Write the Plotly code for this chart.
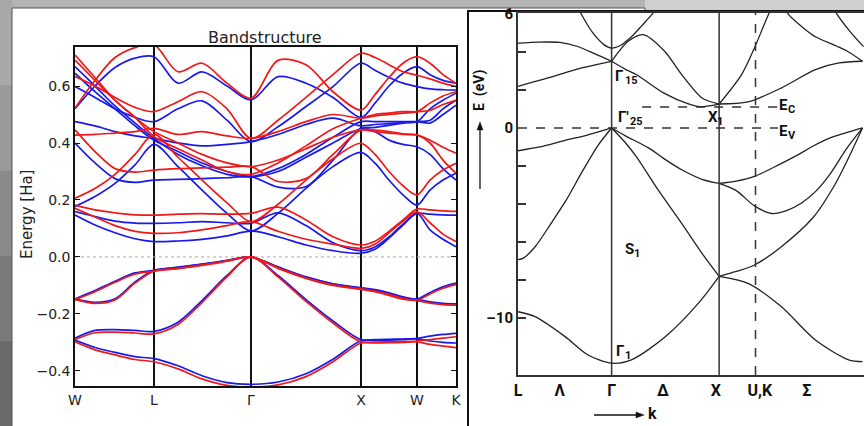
import plotly.graph_objects as go

# ---------------- LEFT PANEL DATA (Energy in Ha) ----------------
K_LEFT = [0, 20, 40, 60, 79, 103, 127, 152, 176, 203, 231, 258, 286, 300, 314, 328, 342, 355, 368, 381]
LEFT_TICK_K = [0, 79, 176, 286, 342, 381]
LEFT_TICK_TEXT = ['W', 'L', 'Γ', 'X', 'W', 'K']
LEFT_Y_TICKS = [-0.4, -0.2, 0.0, 0.2, 0.4, 0.6]

BLUE_V1 = [-0.147, -0.118, -0.085, -0.056, -0.047, -0.036, -0.025, -0.012, 0.0, -0.035, -0.07, -0.094, -0.108, -0.115, -0.126, -0.14, -0.148, -0.125, -0.105, -0.092]
BLUE_V2 = [-0.147, -0.159, -0.147, -0.088, -0.047, -0.037, -0.026, -0.013, 0.0, -0.036, -0.071, -0.095, -0.109, -0.117, -0.13, -0.143, -0.149, -0.158, -0.163, -0.165]
BLUE_V3 = [-0.285, -0.258, -0.255, -0.258, -0.261, -0.229, -0.153, -0.065, 0.0, -0.065, -0.15, -0.225, -0.29, -0.29, -0.289, -0.288, -0.286, -0.278, -0.272, -0.268]
BLUE_V4 = [-0.292, -0.318, -0.335, -0.35, -0.357, -0.382, -0.417, -0.441, -0.447, -0.439, -0.41, -0.359, -0.294, -0.293, -0.292, -0.29, -0.288, -0.295, -0.3, -0.302]
BLUE_C1 = [0.147, 0.112, 0.085, 0.064, 0.054, 0.056, 0.062, 0.074, 0.091, 0.071, 0.042, 0.022, 0.013, 0.027, 0.066, 0.112, 0.153, 0.095, 0.062, 0.036]
BLUE_C2 = [0.159, 0.142, 0.126, 0.119, 0.118, 0.12, 0.124, 0.12, 0.118, 0.155, 0.11, 0.05, 0.022, 0.035, 0.07, 0.115, 0.153, 0.15, 0.148, 0.147]
BLUE_C3 = [0.177, 0.212, 0.258, 0.323, 0.395, 0.317, 0.235, 0.153, 0.091, 0.153, 0.241, 0.317, 0.367, 0.329, 0.27, 0.218, 0.182, 0.235, 0.27, 0.294]
BLUE_C4 = [0.40, 0.33, 0.275, 0.262, 0.27, 0.272, 0.275, 0.278, 0.282, 0.245, 0.247, 0.34, 0.451, 0.44, 0.41, 0.395, 0.387, 0.36, 0.31, 0.27]
BLUE_C5 = [0.668, 0.60, 0.53, 0.47, 0.416, 0.36, 0.32, 0.29, 0.282, 0.31, 0.36, 0.42, 0.475, 0.475, 0.475, 0.475, 0.475, 0.47, 0.50, 0.533]
BLUE_C6 = [0.598, 0.56, 0.52, 0.49, 0.475, 0.52, 0.548, 0.48, 0.405, 0.457, 0.528, 0.598, 0.68, 0.655, 0.63, 0.61, 0.598, 0.59, 0.587, 0.586]
BLUE_C7 = [0.52, 0.60, 0.665, 0.698, 0.703, 0.61, 0.65, 0.60, 0.551, 0.633, 0.61, 0.56, 0.49, 0.54, 0.60, 0.645, 0.668, 0.64, 0.62, 0.61]
BLUE_C8 = [0.475, 0.46, 0.44, 0.425, 0.416, 0.40, 0.39, 0.395, 0.405, 0.43, 0.465, 0.487, 0.46, 0.465, 0.468, 0.472, 0.475, 0.52, 0.55, 0.575]
BLUE_C9 = [0.645, 0.58, 0.52, 0.46, 0.41, 0.37, 0.33, 0.30, 0.282, 0.30, 0.35, 0.40, 0.451, 0.455, 0.462, 0.47, 0.475, 0.48, 0.52, 0.55]

RED_V1 = [-0.15, -0.122, -0.089, -0.06, -0.05, -0.04, -0.028, -0.014, 0.0, -0.038, -0.074, -0.098, -0.112, -0.12, -0.131, -0.145, -0.152, -0.13, -0.11, -0.097]
RED_V2 = [-0.15, -0.163, -0.151, -0.092, -0.05, -0.041, -0.03, -0.015, 0.0, -0.04, -0.075, -0.1, -0.114, -0.122, -0.135, -0.148, -0.153, -0.162, -0.167, -0.169]
RED_V3 = [-0.29, -0.266, -0.264, -0.267, -0.27, -0.237, -0.16, -0.07, 0.0, -0.07, -0.156, -0.232, -0.298, -0.299, -0.298, -0.297, -0.295, -0.29, -0.285, -0.28]
RED_V4 = [-0.298, -0.326, -0.344, -0.36, -0.368, -0.393, -0.428, -0.451, -0.457, -0.449, -0.42, -0.368, -0.302, -0.302, -0.301, -0.3, -0.298, -0.307, -0.313, -0.318]
RED_C1 = [0.171, 0.14, 0.11, 0.09, 0.083, 0.085, 0.095, 0.11, 0.124, 0.09, 0.062, 0.045, 0.03, 0.045, 0.085, 0.125, 0.158, 0.12, 0.08, 0.054]
RED_C2 = [0.182, 0.165, 0.155, 0.148, 0.147, 0.15, 0.152, 0.15, 0.153, 0.175, 0.13, 0.071, 0.042, 0.055, 0.09, 0.13, 0.168, 0.165, 0.162, 0.16]
RED_C3 = [0.206, 0.24, 0.29, 0.36, 0.43, 0.35, 0.27, 0.19, 0.124, 0.185, 0.27, 0.345, 0.399, 0.36, 0.30, 0.25, 0.218, 0.27, 0.305, 0.329]
RED_C4 = [0.446, 0.37, 0.31, 0.298, 0.305, 0.31, 0.313, 0.315, 0.317, 0.265, 0.275, 0.36, 0.446, 0.445, 0.44, 0.432, 0.428, 0.40, 0.34, 0.294]
RED_C5 = [0.709, 0.63, 0.55, 0.49, 0.422, 0.38, 0.34, 0.30, 0.29, 0.33, 0.39, 0.45, 0.487, 0.50, 0.505, 0.51, 0.51, 0.515, 0.535, 0.55]
RED_C6 = [0.633, 0.60, 0.56, 0.525, 0.51, 0.545, 0.58, 0.52, 0.416, 0.48, 0.56, 0.64, 0.715, 0.70, 0.675, 0.65, 0.638, 0.625, 0.61, 0.598]
RED_C7 = [0.522, 0.62, 0.70, 0.735, 0.745, 0.65, 0.68, 0.61, 0.557, 0.69, 0.675, 0.58, 0.516, 0.57, 0.63, 0.68, 0.703, 0.68, 0.64, 0.61]
RED_C8 = [0.428, 0.43, 0.435, 0.44, 0.451, 0.43, 0.44, 0.425, 0.416, 0.44, 0.475, 0.50, 0.487, 0.495, 0.50, 0.505, 0.51, 0.54, 0.565, 0.58]
RED_C9 = [0.691, 0.62, 0.55, 0.49, 0.44, 0.40, 0.36, 0.33, 0.317, 0.34, 0.38, 0.42, 0.446, 0.44, 0.435, 0.43, 0.428, 0.41, 0.385, 0.364]

BLUE_BANDS = [BLUE_V1, BLUE_V2, BLUE_V3, BLUE_V4, BLUE_C1, BLUE_C2, BLUE_C3, BLUE_C4,
              BLUE_C5, BLUE_C6, BLUE_C7, BLUE_C8, BLUE_C9]
RED_BANDS = [RED_V1, RED_V2, RED_V3, RED_V4, RED_C1, RED_C2, RED_C3, RED_C4,
             RED_C5, RED_C6, RED_C7, RED_C8, RED_C9]

# ---------------- RIGHT PANEL DATA (Energy in eV) ----------------
RIGHT_TICK_K = [0, 0.39, 0.875, 1.355, 1.85, 2.26, 2.70]
RIGHT_TICK_TEXT = ['L', 'Λ', 'Γ', 'Δ', 'X', 'U,K', 'Σ']
RIGHT_SOLID_K = [0.875, 1.88]
RIGHT_DASHED_K = [2.22]
RIGHT_Y_LABELED = [-10, 0, 6]
RIGHT_Y_LABEL_TEXT = ['–10', '0', '6']
RIGHT_Y_MINOR = [-10, -8, -6, -4, -2, 2, 4]
E_C = 1.1
E_V = 0.0
EC_K = [1.16, 2.43]
EV_K = [0.0, 2.43]

VB0_K = [0, 0.16, 0.44, 0.655, 0.875, 1.06, 1.374, 1.685, 1.88, None, 1.88, 2.15, 2.46, 2.78, 3.09, 3.22]
VB0_E = [-9.67, -9.93, -10.98, -11.95, -12.38, -12.2, -11.0, -9.23, -7.81, None, -7.81, -8.18, -9.4, -11.16, -12.2, -12.3]
VB2_K = [0, 0.05, 0.16, 0.3, 0.45, 0.6, 0.75, 0.875, None, 0.875, 1.0, 1.109, 1.31, 1.53, 1.72, 1.88, None, 1.88, 2.04, 2.21, 2.45, 2.76, 2.96, 3.07, 3.22]
VB2_E = [-6.93, -6.85, -6.25, -5.1, -3.8, -2.3, -0.9, 0.0, None, 0.0, -0.75, -1.53, -3.26, -5.02, -6.6, -7.81, None, -7.81, -7.55, -7.21, -6.3, -4.7, -3.0, -1.8, 0.0]
VB1_K = [0, 0.2, 0.44, 0.64, 0.875, None, 0.875, 1.0, 1.22, 1.36, 1.53, 1.72, 1.88, None, 1.88, 2.04, 2.21, 2.45, 2.62, 2.76, 2.93, 3.07, 3.22]
VB1_E = [-1.2, -1.0, -0.65, -0.39, 0.0, None, 0.0, -0.4, -1.05, -1.6, -2.2, -2.7, -2.92, None, -2.92, -2.8, -2.55, -1.9, -1.4, -0.95, -0.5, -0.25, 0.0]
VB1B_K = [1.88, 2.04, 2.21, 2.37, 2.51, 2.65, 2.78, 2.92, 3.07, 3.22]
VB1B_E = [-2.92, -3.3, -4.1, -4.5, -4.35, -3.95, -3.35, -2.4, -1.1, 0.0]
CB1_K = [0, 0.28, 0.595, 0.875, None, 0.875, 1.0, 1.109, 1.36, 1.6, 1.7, 1.88, None, 1.88, 2.15, 2.46, 2.78, 3.0, 3.22]
CB1_E = [2.19, 2.63, 3.16, 3.51, None, 3.51, 3.1, 2.8, 1.85, 1.25, 1.12, 1.26, None, 1.26, 1.37, 2.1, 3.07, 3.42, 3.51]
CB2_K = [0, 0.2, 0.39, 0.55, 0.72, 0.875, None, 0.875, 1.03, 1.17, 1.37, 1.53, 1.72, 1.88, None, 1.88, 2.09, 2.21, 2.34, 2.45]
CB2_E = [4.46, 4.52, 4.5, 4.3, 3.9, 3.51, None, 3.51, 4.56, 4.91, 4.04, 2.81, 1.58, 1.26, None, 1.26, 2.81, 4.21, 5.96, 7.2]
CB3_K = [0.52, 0.595, 0.7, 0.8, 0.875, 0.96, 1.06, 1.16, 1.25, 1.32]
CB3_E = [6.8, 5.96, 5.0, 4.4, 4.2, 4.35, 4.8, 5.4, 5.96, 6.5]
CB4_K = [2.47, 2.53, 2.67, 2.78, 2.98, 3.09, 3.22]
CB4_E = [6.6, 5.96, 5.25, 4.8, 4.3, 4.0, 3.51]
CB5_K = [2.9, 2.98, 3.1, 3.23]
CB5_E = [7.0, 6.0, 5.1, 4.28]

RIGHT_BANDS = [(VB0_K, VB0_E), (VB2_K, VB2_E), (VB1_K, VB1_E), (VB1B_K, VB1B_E),
               (CB1_K, CB1_E), (CB2_K, CB2_E), (CB3_K, CB3_E), (CB4_K, CB4_E), (CB5_K, CB5_E)]

W, H = 864, 426
def px(x):
    return x / W
def py(y):
    return 1 - y / H

fig = go.Figure()

# zero reference line (left)
fig.add_trace(go.Scatter(x=[K_LEFT[0], K_LEFT[-1]], y=[0, 0], mode='lines',
                         line=dict(color='#aaaaaa', width=1, dash='dot'),
                         xaxis='x', yaxis='y', hoverinfo='skip'))
for band in BLUE_BANDS:
    fig.add_trace(go.Scatter(x=K_LEFT, y=band, mode='lines',
                             line=dict(color='rgb(25,25,235)', width=1.7, shape='spline', smoothing=0.9),
                             xaxis='x', yaxis='y'))
for band in RED_BANDS:
    fig.add_trace(go.Scatter(x=K_LEFT, y=band, mode='lines',
                             line=dict(color='rgb(240,25,25)', width=1.7, shape='spline', smoothing=0.9),
                             xaxis='x', yaxis='y'))

for kk, ee in RIGHT_BANDS:
    fig.add_trace(go.Scatter(x=kk, y=ee, mode='lines', connectgaps=False,
                             line=dict(color='#222222', width=1.3, shape='spline', smoothing=0.8),
                             xaxis='x2', yaxis='y2'))
# E_C and E_V dashed levels
fig.add_trace(go.Scatter(x=EC_K, y=[E_C, E_C], mode='lines',
                         line=dict(color='#333333', width=1.4, dash='dash'), xaxis='x2', yaxis='y2'))
fig.add_trace(go.Scatter(x=EV_K, y=[E_V, E_V], mode='lines',
                         line=dict(color='#333333', width=1.4, dash='dash'), xaxis='x2', yaxis='y2'))

shapes = []
# gray background pieces
shapes.append(dict(type='rect', xref='paper', yref='paper', x0=0, x1=1, y0=0, y1=1,
                   fillcolor='#b4b4b4', line=dict(width=0), layer='below'))
for i, c in enumerate(['#a8a8a8', '#9a9a9a', '#8a8a8a', '#7a7a7a', '#6a6a6a']):
    shapes.append(dict(type='rect', xref='paper', yref='paper', x0=0, x1=px(12),
                       y0=1 - (i + 1) / 5, y1=1 - i / 5, fillcolor=c, line=dict(width=0), layer='below'))
shapes.append(dict(type='rect', xref='paper', yref='paper', x0=px(645), x1=1, y0=py(12), y1=1,
                   fillcolor='#cfcfcf', line=dict(width=0), layer='below'))
# white panels
shapes.append(dict(type='rect', xref='paper', yref='paper', x0=px(12), x1=px(645), y0=-0.01, y1=py(8),
                   fillcolor='white', line=dict(color='#555555', width=1), layer='below'))
shapes.append(dict(type='rect', xref='paper', yref='paper', x0=px(468), x1=1.01, y0=-0.01, y1=py(11),
                   fillcolor='white', line=dict(color='#111111', width=2), layer='below'))
# right panel vertical symmetry lines
for kx in RIGHT_SOLID_K:
    shapes.append(dict(type='line', xref='x2', yref='paper', x0=kx, x1=kx, y0=py(375), y1=py(13),
                       line=dict(color='#333333', width=1.5)))
for kx in RIGHT_DASHED_K:
    shapes.append(dict(type='line', xref='x2', yref='paper', x0=kx, x1=kx, y0=py(375), y1=py(13),
                       line=dict(color='#333333', width=1.5, dash='dash')))
# arrows (E axis and k axis)
shapes.append(dict(type='line', xref='paper', yref='paper', x0=px(480), x1=px(480), y0=py(189), y1=py(128),
                   line=dict(color='#111111', width=1.3)))
shapes.append(dict(type='path', xref='paper', yref='paper',
                   path=f'M {px(477)} {py(130)} L {px(483)} {py(130)} L {px(480)} {py(122)} Z',
                   fillcolor='#111111', line=dict(color='#111111', width=0.5)))
shapes.append(dict(type='line', xref='paper', yref='paper', x0=px(594), x1=px(638), y0=py(415), y1=py(415),
                   line=dict(color='#111111', width=1.3)))
shapes.append(dict(type='path', xref='paper', yref='paper',
                   path=f'M {px(636)} {py(412)} L {px(636)} {py(418)} L {px(644)} {py(415)} Z',
                   fillcolor='#111111', line=dict(color='#111111', width=0.5)))

bold_family = 'Roboto, Liberation Sans Narrow, DejaVu Sans, sans-serif'
mpl_font = 'DejaVu Sans, sans-serif'
def bfont(size):
    return dict(family=bold_family, size=size, color='#111111', weight='bold')

annotations = [
    dict(text='Bandstructure', x=px(265), y=py(37), xref='paper', yref='paper', showarrow=False,
         xanchor='center', yanchor='middle', font=dict(family=mpl_font, size=16, color='#222222')),
    dict(text='Energy [Ha]', x=px(27), y=py(215), xref='paper', yref='paper', showarrow=False,
         xanchor='center', yanchor='middle', textangle=-90,
         font=dict(family=mpl_font, size=15, color='#222222')),
    dict(text='E  (eV)', x=px(480), y=py(90), xref='paper', yref='paper', showarrow=False,
         xanchor='center', yanchor='middle', textangle=-90, font=bfont(14)),
    dict(text='k', x=px(652), y=py(413), xref='paper', yref='paper', showarrow=False,
         xanchor='center', yanchor='middle', font=bfont(16)),
]
# symbol labels: (main text, x, y, subscript text, sub x, sub y)
labels = [
    ('Γ', 613, 76, '15', 623, 80),
    ("Γ'", 616, 117, '25', 628, 121),
    ('X', 706, 117, '1', 715, 121),
    ('S', 623, 249, '1', 632, 253),
    ('Γ', 614, 351, '1', 623, 355),
    ('E', 777, 105, 'C', 786, 109),
    ('E', 777, 131, 'V', 786, 135),
]
for t, x, y, s, sx, sy in labels:
    annotations.append(dict(text=t, x=px(x), y=py(y), xref='paper', yref='paper', showarrow=False,
                            xanchor='left', yanchor='middle', font=bfont(15)))
    annotations.append(dict(text=s, x=px(sx), y=py(sy), xref='paper', yref='paper', showarrow=False,
                            xanchor='left', yanchor='middle', font=bfont(11)))

fig.update_layout(
    width=W, height=H, margin=dict(l=0, r=0, t=0, b=0, autoexpand=False),
    paper_bgcolor='#b4b4b4', plot_bgcolor='white', showlegend=False,
    shapes=shapes, annotations=annotations,
    xaxis=dict(domain=[px(75), px(456)], range=[K_LEFT[0], K_LEFT[-1]], automargin=False,
               tickvals=LEFT_TICK_K, ticktext=LEFT_TICK_TEXT, ticks='', showgrid=True,
               gridcolor='#111111', gridwidth=1.5, showline=True, linecolor='#111111', linewidth=1.5,
               mirror=True, zeroline=False, tickfont=dict(family=mpl_font, size=14, color='#222222')),
    yaxis=dict(domain=[py(386), py(47)], range=[-0.453, 0.737], tickvals=LEFT_Y_TICKS, automargin=False,
               tickformat='.1f', ticks='inside', ticklen=5, tickcolor='#111111', showgrid=False,
               showline=True, linecolor='#111111', linewidth=1.5, mirror='ticks', zeroline=False,
               tickfont=dict(family=mpl_font, size=14, color='#222222')),
    xaxis2=dict(domain=[px(518), 1.0], range=[0, 3.234], anchor='y2', automargin=False,
                tickvals=RIGHT_TICK_K, ticktext=RIGHT_TICK_TEXT, ticks='', showgrid=False,
                showline=True, linecolor='#333333', linewidth=2, mirror=True, zeroline=False,
                tickfont=bfont(16)),
    yaxis2=dict(domain=[py(375), py(13)], range=[-13.0, 6.05], anchor='x2', automargin=False,
                tickvals=RIGHT_Y_LABELED, ticktext=RIGHT_Y_LABEL_TEXT, ticks='inside', ticklen=0,
                tickwidth=1.5, tickcolor='#333333', showgrid=False, showline=True,
                minor=dict(tickvals=RIGHT_Y_MINOR, ticks='inside', ticklen=8, tickwidth=1.5,
                           tickcolor='#333333', showgrid=False),
                linecolor='#333333', linewidth=2, mirror=False, zeroline=False,
                tickfont=bfont(15)),
)

fig.write_html('out.html')
